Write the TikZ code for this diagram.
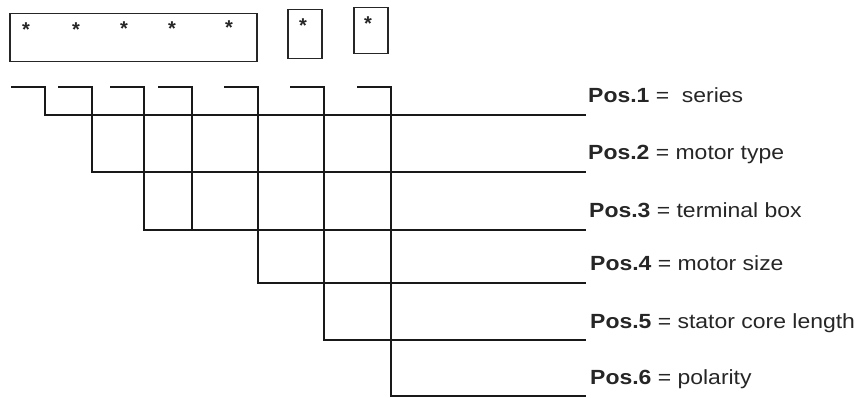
\documentclass[tikz,border=0pt]{standalone}
\usepackage{fontspec}
\setmainfont{Liberation Sans}
\newfontfamily\labelfont{Liberation Sans}[FakeStretch=1.12]
\usetikzlibrary{positioning}

\begin{document}
\begin{tikzpicture}[
  x=1pt, y=-1pt,
  codebox/.style={rectangle, draw=black!85, line width=1.5pt, inner sep=0pt,
                  anchor=north west},
  star/.style={font=\bfseries\fontsize{20}{22}\selectfont, text=black!85,
               inner sep=0pt, anchor=base},
  lead/.style={draw=black!90, line width=1.4pt},
  poslabel/.style={font=\labelfont\fontsize{20.5}{24}\selectfont, text=black!85,
                   inner sep=0pt, anchor=base west}
]
\useasboundingbox (0,0) rectangle (857,398);

% code boxes
\node[codebox, minimum width=247pt, minimum height=48pt] (code) at (9,13) {};
\node[codebox, minimum width=34pt,  minimum height=49pt] (pole) at (287,9) {};
\node[codebox, minimum width=34pt,  minimum height=46pt] (last) at (353,7) {};

\node[star] (s1) at (26,37)  {*};
\node[star] (s2) at (76,37)  {*};
\node[star] (s3) at (124,36) {*};
\node[star] (s4) at (172,36) {*};
\node[star] (s5) at (229,35) {*};
\node[star] (s6) at (303,33) {*};
\node[star] (s7) at (368,31) {*};

% bracket starts
\coordinate (b1) at (11,87);
\coordinate (b2) at (58,87);
\coordinate (b3) at (110,87);
\coordinate (b4) at (158,87);
\coordinate (b5) at (224,87);
\coordinate (b6) at (290,87);
\coordinate (b7) at (357,87);

% line ends and labels
\coordinate (e1) at (586,115);
\coordinate (e2) at (586,172);
\coordinate (e3) at (586,230);
\coordinate (e4) at (586,283);
\coordinate (e5) at (586,340);
\coordinate (e6) at (586,396);

\node[poslabel] (p1) at ([shift={(2,-12)}]e1) {\textbf{Pos.1} = \ series};
\node[poslabel] (p2) at ([shift={(2,-12)}]e2) {\textbf{Pos.2} = motor type};
\node[poslabel] (p3) at ([shift={(3,-12)}]e3) {\textbf{Pos.3} = terminal box};
\node[poslabel] (p4) at ([shift={(4,-12)}]e4) {\textbf{Pos.4} = motor size};
\node[poslabel] (p5) at ([shift={(4,-12)}]e5) {\textbf{Pos.5} = stator core length};
\node[poslabel] (p6) at ([shift={(4,-12)}]e6) {\textbf{Pos.6} = polarity};

% leaders
\draw[lead] (b1) -- ++(34,0) |- (e1);
\draw[lead] (b2) -- ++(34,0) |- (e2);
\draw[lead] (b3) -- ++(34,0) |- (e3);
\draw[lead] (b4) -- ++(34,0) coordinate (v4) -- (v4 |- e3);
\draw[lead] (b5) -- ++(34,0) |- (e4);
\draw[lead] (b6) -- ++(34,0) |- (e5);
\draw[lead] (b7) -- ++(34,0) |- (e6);

\end{tikzpicture}
\end{document}
